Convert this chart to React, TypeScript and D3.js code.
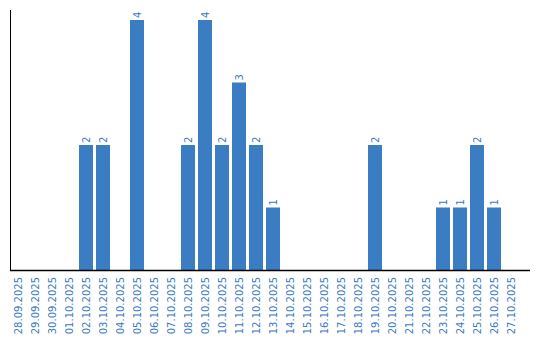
import React from "react";
import * as d3 from "d3";

const dates = [
  "28.09.2025", "29.09.2025", "30.09.2025", "01.10.2025", "02.10.2025", "03.10.2025",
  "04.10.2025", "05.10.2025", "06.10.2025", "07.10.2025", "08.10.2025", "09.10.2025",
  "10.10.2025", "11.10.2025", "12.10.2025", "13.10.2025", "14.10.2025", "15.10.2025",
  "16.10.2025", "17.10.2025", "18.10.2025", "19.10.2025", "20.10.2025", "21.10.2025",
  "22.10.2025", "23.10.2025", "24.10.2025", "25.10.2025", "26.10.2025", "27.10.2025",
];
const counts = [0, 0, 0, 0, 2, 2, 0, 4, 0, 0, 2, 4, 2, 3, 2, 1, 0, 0, 0, 0, 0, 2, 0, 0, 0, 1, 1, 2, 1, 0];

const W = 540;
const H = 340;
const BLUE = "#3a7dc2";
const TEXT_BLUE = "#3a7bc0";

export default function App() {
  const x = d3
    .scaleBand<string>()
    .domain(dates)
    .range([9.5, 519.5])
    .paddingInner(3 / 17)
    .paddingOuter(1.5 / 17);
  const y = d3.scaleLinear().domain([0, 4]).range([270, 20]);
  const font = "'DejaVu Sans', Verdana, sans-serif";

  return (
    <svg
      width={W}
      height={H}
      style={{ position: "absolute", left: 0, top: 0, background: "#fff" }}
    >
      {dates.map((d, i) =>
        counts[i] > 0 ? (
          <g key={d}>
            <rect
              x={x(d)}
              y={y(counts[i])}
              width={x.bandwidth()}
              height={y(0) - y(counts[i])}
              fill={BLUE}
            />
            <text
              transform={`translate(${(x(d) as number) + x.bandwidth() / 2},${y(counts[i]) - 2}) rotate(-90)`}
              textAnchor="start"
              dominantBaseline="central"
              fontFamily={font}
              fontSize={10}
              fill={TEXT_BLUE}
            >
              {counts[i]}
            </text>
          </g>
        ) : null
      )}
      <line x1={10.5} x2={10.5} y1={10} y2={270} stroke="#000" strokeWidth={1} />
      <line x1={10} x2={530} y1={270.5} y2={270.5} stroke="#000" strokeWidth={1.5} />
      {dates.map((d) => (
        <text
          key={"l" + d}
          transform={`translate(${(x(d) as number) + x.bandwidth() / 2},277) rotate(-90)`}
          textAnchor="end"
          dominantBaseline="central"
          fontFamily={font}
          fontSize={10}
          fill={TEXT_BLUE}
        >
          {d}
        </text>
      ))}
    </svg>
  );
}
